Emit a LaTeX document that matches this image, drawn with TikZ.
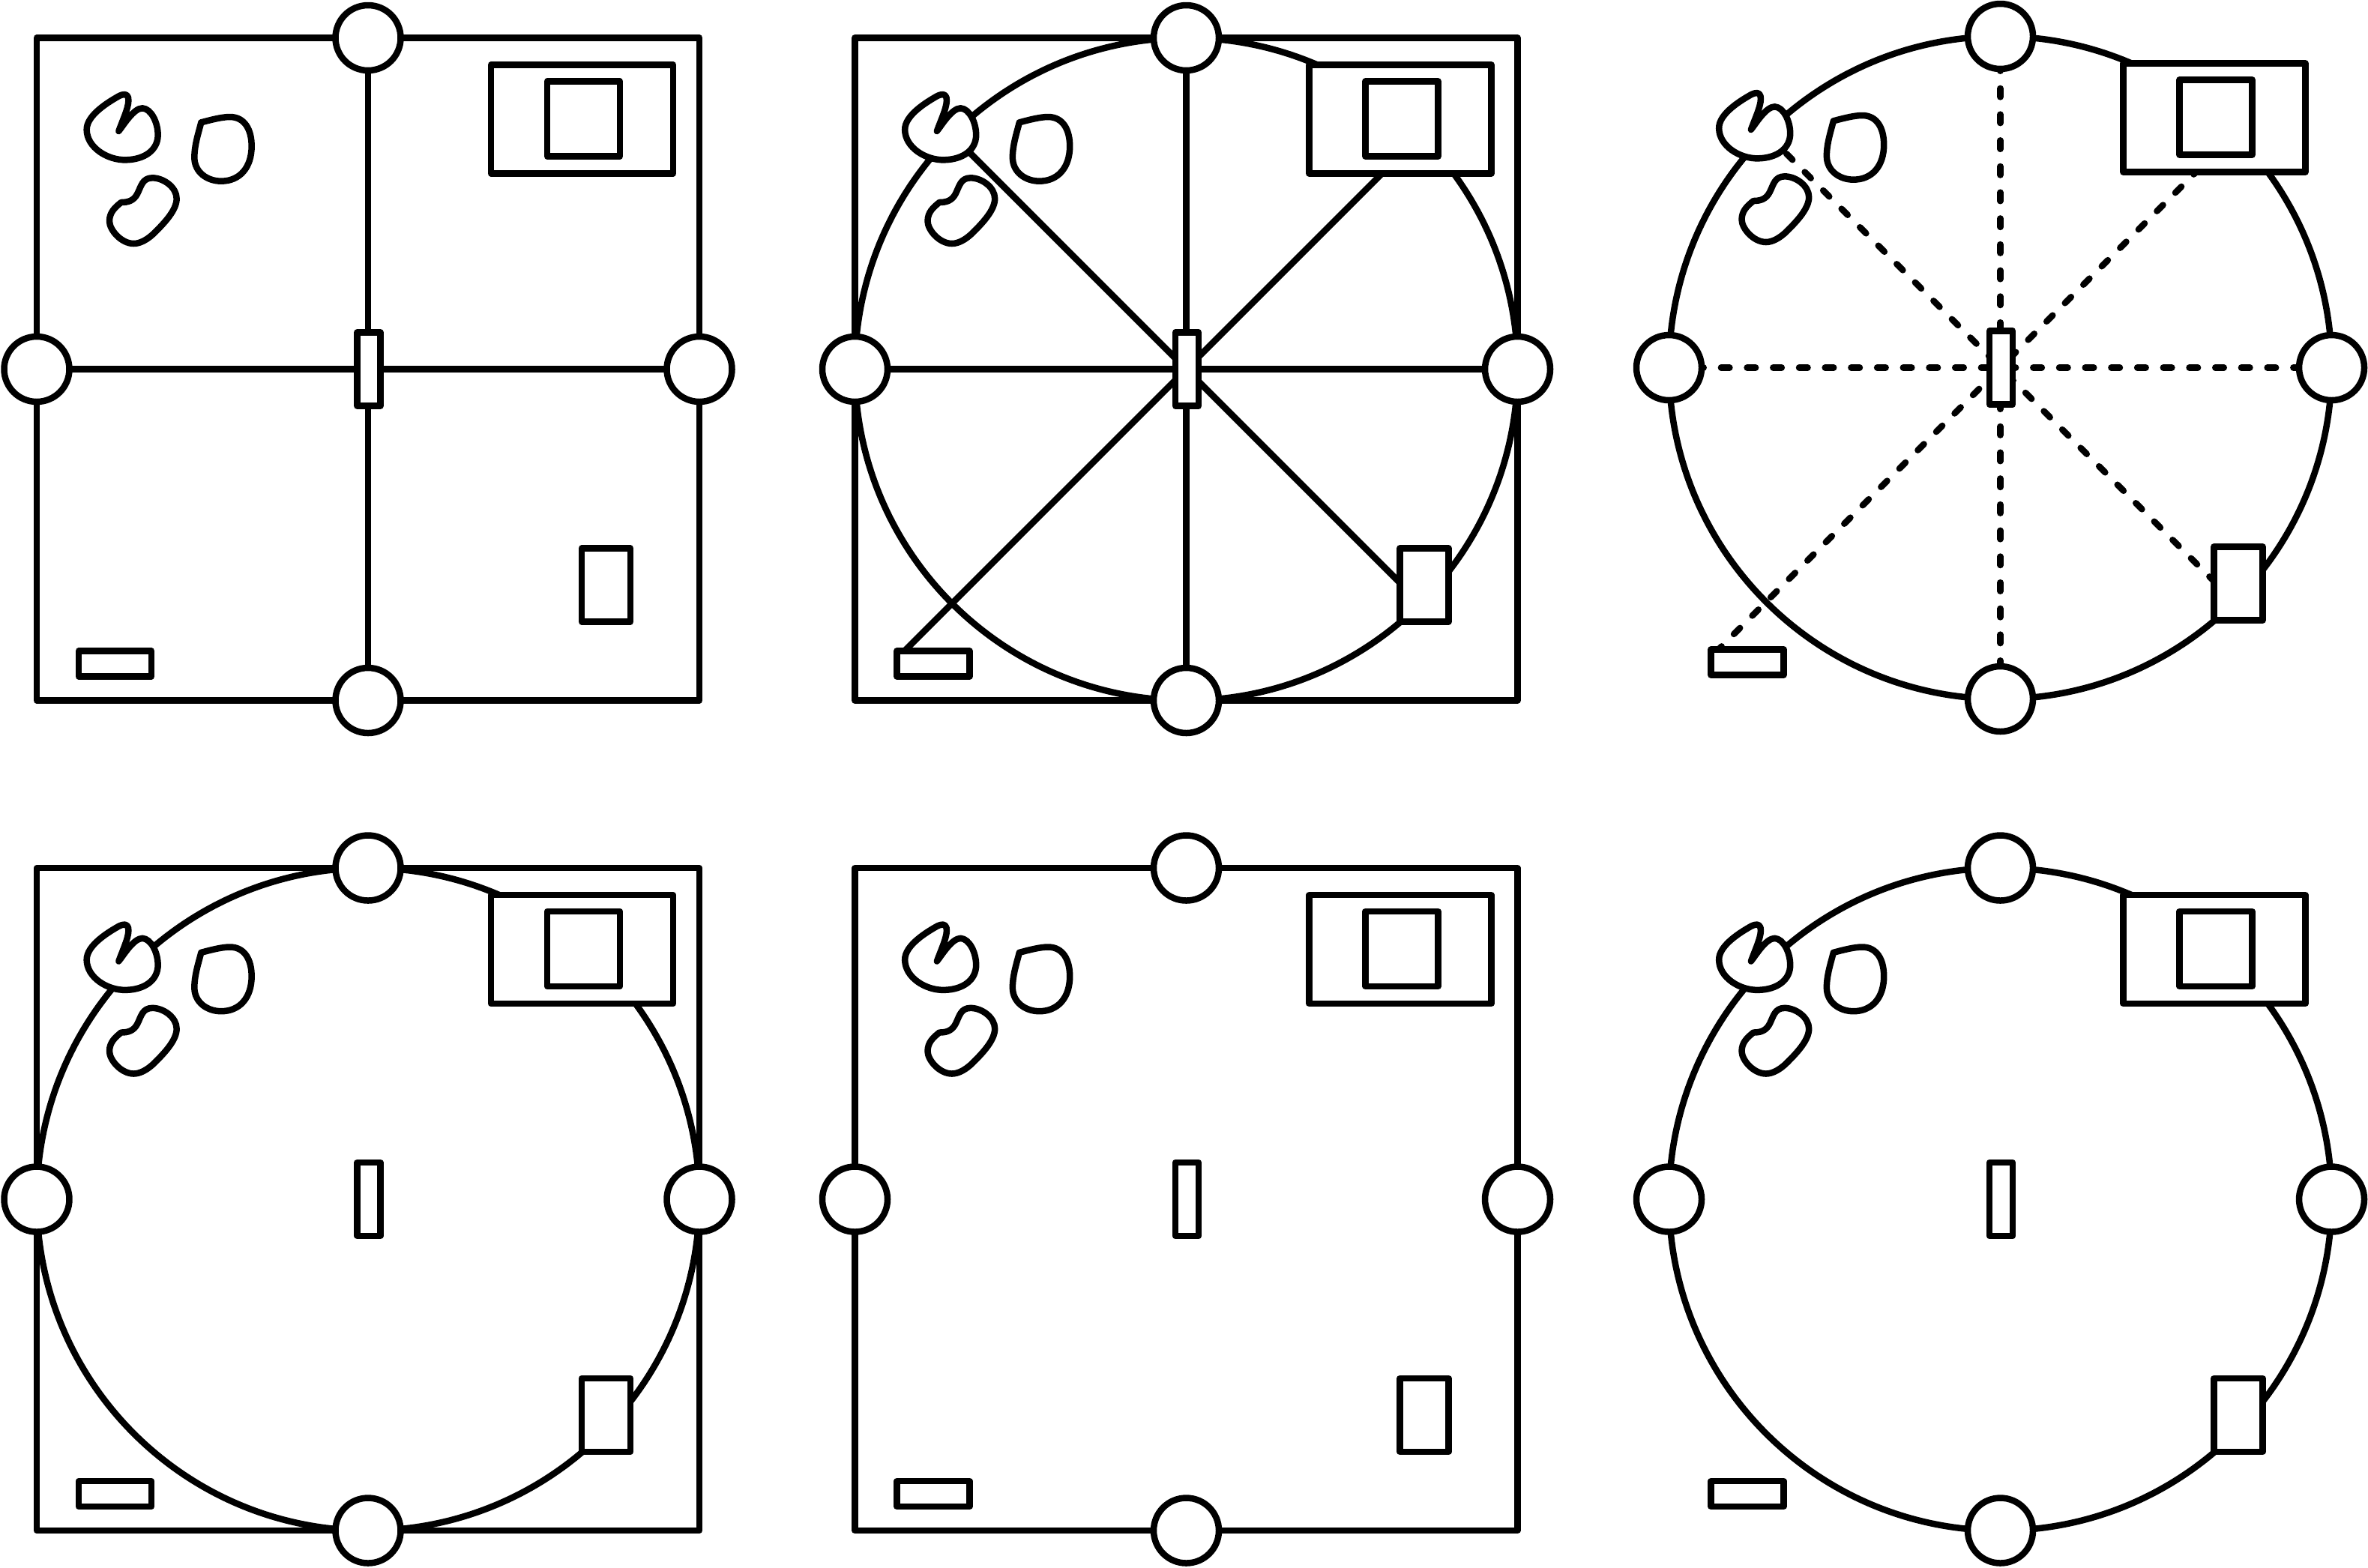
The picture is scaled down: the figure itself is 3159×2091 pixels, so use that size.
\documentclass[tikz,border=0pt]{standalone}
\usetikzlibrary{backgrounds}
\def\uu{0.24pt}
\tikzset{
  ink/.style={draw=black,line width=8.5*\uu,line join=round},
  boxn/.style={ink,fill=white,rectangle,inner sep=0pt,outer sep=0pt},
  hub/.style={ink,fill=white,circle,inner sep=0pt,outer sep=0pt,minimum size=87*\uu},
  bigsq/.style={ink,rectangle,inner sep=0pt,outer sep=0pt,minimum size=884*\uu},
  bigci/.style={ink,circle,inner sep=0pt,outer sep=0pt,minimum size=884*\uu},
  blobline/.style={ink,fill=white,line cap=round},
  spokeS/.style={ink},
  spokeD/.style={ink,line cap=round,dash pattern=on 11.5*\uu off 23.2*\uu}
}
\newcommand{\panelx}[6]{%
\begin{scope}[shift={(#2,#3)}]
  \node[boxn,minimum width=243*\uu,minimum height=145*\uu] (#1big) at (285.5,-333.5) {};
  \node[boxn,minimum width=97*\uu,minimum height=100*\uu] (#1in) at (287.5,-334) {};
  \node[boxn,minimum width=65*\uu,minimum height=98*\uu] (#1lr) at (317.5,288) {};
  \node[boxn,minimum width=97*\uu,minimum height=34*\uu] (#1sm) at (-337.5,393) {};
  \node[boxn,minimum width=31*\uu,minimum height=98*\uu] (#1c) at (1,0) {};
  \node[hub] (#1n) at (0,-442) {};
  \node[hub] (#1s) at (0,442) {};
  \node[hub] (#1w) at (-442,0) {};
  \node[hub] (#1e) at (442,0) {};
  \begin{scope}[shift={(-401,-392.5)},x=0.08pt,y=-0.08pt]
    \draw[blobline] (205,225) .. controls (225,170) and (250,120) .. (243,90)
      .. controls (238,75) and (225,75) .. (205,85)
      .. controls (170,105) and (75,160) .. (77,220)
      .. controls (78,290) and (160,342) .. (235,340)
      .. controls (310,338) and (362,300) .. (362,240)
      .. controls (362,190) and (335,135) .. (300,133)
      .. controls (265,133) and (225,200) .. (205,225) -- cycle;
    \draw[blobline] (535,190) .. controls (580,178) and (620,168) .. (650,168)
      .. controls (710,168) and (737,220) .. (737,285)
      .. controls (737,370) and (690,425) .. (615,425)
      .. controls (560,425) and (508,390) .. (508,330)
      .. controls (508,280) and (525,230) .. (535,190) -- cycle;
    \draw[blobline] (215,510) .. controls (240,510) and (265,505) .. (280,475)
      .. controls (295,445) and (300,412) .. (340,412)
      .. controls (385,412) and (437,450) .. (437,495)
      .. controls (437,540) and (390,590) .. (350,630)
      .. controls (320,660) and (290,675) .. (265,675)
      .. controls (215,675) and (168,620) .. (168,585)
      .. controls (168,550) and (190,530) .. (215,510) -- cycle;
  \end{scope}
  \coordinate (#1nw) at (-310,-310);
  \coordinate (#1ne) at (290,-290);
  \coordinate (#1se) at (290,290);
  \coordinate (#1sw) at (-380,380);
  \begin{scope}[on background layer]
    \ifnum#4=1 \node[bigsq] (#1sq) at (0,0) {}; \fi
    \ifnum#5=1 \node[bigci] (#1ci) at (0,0) {}; \fi
    \ifnum#6=1
      \draw[spokeS] (#1n.center) -- (#1s.center);
      \draw[spokeS] (#1w.center) -- (#1e.center);
    \fi
    \ifnum#6=2
      \draw[spokeS] (#1n.center) -- (#1s.center);
      \draw[spokeS] (#1w.center) -- (#1e.center);
      \draw[spokeS] (#1nw) -- (#1se);
      \draw[spokeS] (#1sw) -- (#1ne);
    \fi
    \ifnum#6=3
      \draw[spokeD] (#1n.center) -- (#1s.center);
      \draw[spokeD] (#1w.center) -- (#1e.center);
      \draw[spokeD] (#1nw) -- (#1se);
      \draw[spokeD] (#1sw) -- (#1ne);
    \fi
  \end{scope}
\end{scope}}
\begin{document}
\begin{tikzpicture}[x=0.24pt,y=-0.24pt]
\useasboundingbox (0,0) rectangle (3159,2091);
\panelx{a}{491}{492.5}{1}{0}{1}
\panelx{b}{1582.5}{492.5}{1}{1}{2}
\panelx{c}{2668.5}{490.5}{0}{1}{3}
\panelx{d}{491}{1600}{1}{1}{0}
\panelx{e}{1582.5}{1600}{1}{0}{0}
\panelx{f}{2668.5}{1600}{0}{1}{0}
\end{tikzpicture}
\end{document}
